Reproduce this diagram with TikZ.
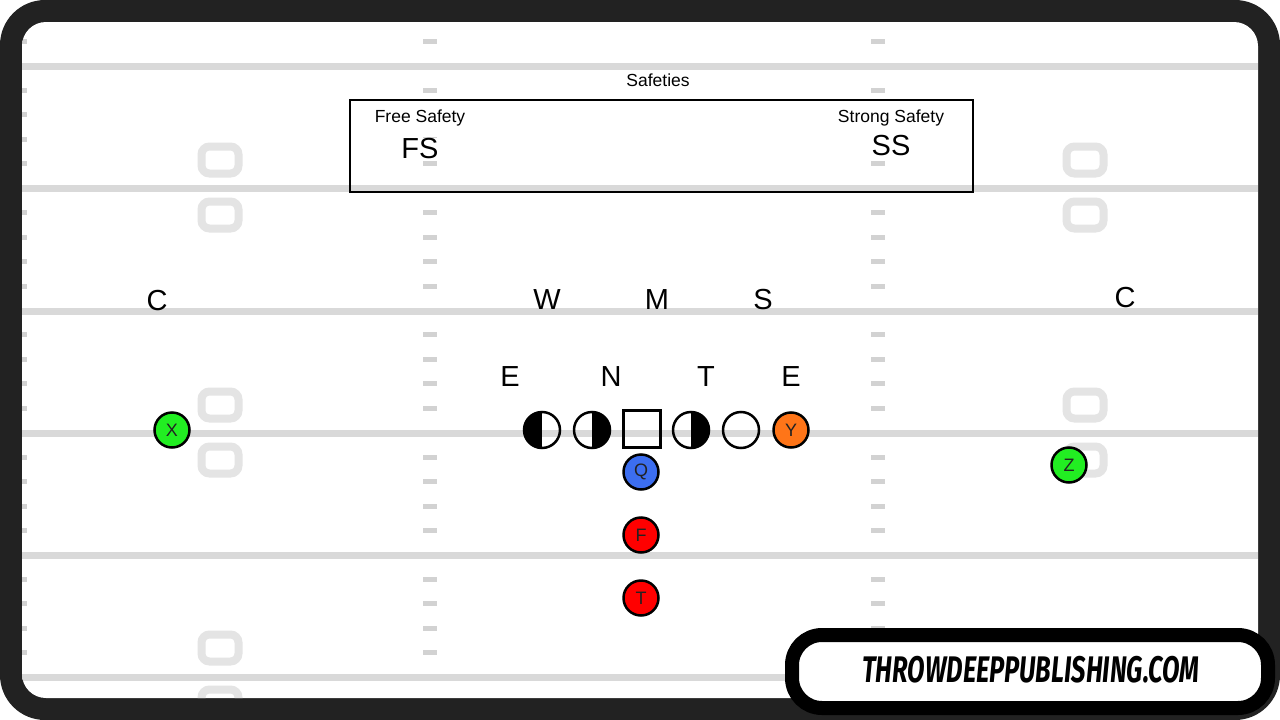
\documentclass[tikz,border=0pt]{standalone}
\usepackage{fontspec}
\usepackage{graphicx}
\setmainfont{Liberation Sans}
\newfontfamily\logofont{Fira Sans}
\definecolor{framecol}{HTML}{222222}
\definecolor{linegray}{HTML}{D9D9D9}
\definecolor{hashgray}{HTML}{D2D2D2}
\definecolor{numgray}{HTML}{E4E4E4}
\definecolor{wrgreen}{HTML}{22EE22}
\definecolor{teorange}{HTML}{FF7518}
\definecolor{qbblue}{HTML}{3C6EF0}
\definecolor{rbred}{HTML}{FF0000}
\tikzset{
  yardline/.style = {linegray, line width=7pt},
  hashmark/.style = {hashgray, line width=5pt},
  numeral/.style  = {numgray, line width=8pt, rounded corners=8pt},
  player/.style   = {circle, draw=black, line width=2.5pt, minimum size=35pt, inner sep=0pt,
                     text=framecol, font=\fontsize{18}{20}\selectfont},
  lineman/.style  = {circle, draw=black, line width=2.5pt, minimum size=36pt, inner sep=0pt},
  lefthalf/.style = {path picture={\fill[black] (path picture bounding box.north west) rectangle (path picture bounding box.south);}},
  righthalf/.style= {path picture={\fill[black] (path picture bounding box.north) rectangle (path picture bounding box.south east);}},
  defense/.style  = {font=\fontsize{29}{32}\selectfont, inner sep=1pt},
  caption/.style  = {font=\fontsize{17.5}{20}\selectfont, inner sep=1pt, fill=white}
}
\newcommand{\logotext}{THROWDEEPPUBLISHING.COM}

\begin{document}
\begin{tikzpicture}[x=1pt,y=-1pt]
  \useasboundingbox (0,0) rectangle (1280,720);
  % frame
  \fill[framecol,rounded corners=45pt] (0,0) rectangle (1280,720);
  \fill[white,rounded corners=24pt] (22,22) rectangle (1258,698);
  \begin{scope}
    \clip[rounded corners=24pt] (22,22) rectangle (1258,698);
    % hash marks
    \foreach \k in {0,...,26} {
      \pgfmathsetmacro{\hy}{41.55+24.45*\k}
      \draw[hashmark] (12,\hy) -- (27,\hy);
      \draw[hashmark] (423,\hy) -- (437,\hy);
      \draw[hashmark] (871,\hy) -- (885,\hy);
    }
    % yard lines
    \foreach \y in {66,188.5,311,433,555,677}
      \draw[yardline] (22,\y) -- (1258,\y);
    % numbers
    \foreach \x in {220,1085}
      \foreach \y in {160,215,405,460,648,703}
        \draw[numeral] ({\x-18.5},{\y-13.5}) rectangle ++(37,27);
  \end{scope}
  % safeties
  \node[draw=black,line width=2.8pt,minimum width=623pt,minimum height=92pt] (box) at (661.5,146) {};
  \node[caption] (saf) at (658,80) {Safeties};
  \node[caption] (fslab) at (420,118) {Free Safety};
  \node[caption] (sslab) at (891,118) {Strong Safety};
  \node[defense,fill=white] (fs) at (420,149) {FS};
  \node[defense,fill=white] (ss) at (891,146) {SS};
  % linebackers and corners
  \node[defense] (cl) at (157,301) {C};
  \node[defense] (w) at (547,300) {W};
  \node[defense] (m) at (657,300) {M};
  \node[defense] (s) at (763,300) {S};
  \node[defense] (cr) at (1125,298) {C};
  % line
  \node[defense] (el) at (510,377) {E};
  \node[defense] (n) at (611,377) {N};
  \node[defense] (t) at (706,377) {T};
  \node[defense] (er) at (791,377) {E};
  % offense
  \node[player,fill=wrgreen] (x) at (172,430) {X};
  \node[lineman,lefthalf] (lt) at (542,430) {};
  \node[lineman,righthalf] (lg) at (592,430) {};
  \node[draw=black,line width=2.5pt,minimum size=37pt,inner sep=0pt] (ctr) at (642,429) {};
  \node[lineman,righthalf] (rg) at (691,430) {};
  \node[lineman] (rt) at (741,430) {};
  \node[player,fill=teorange] (y) at (791,430) {Y};
  \node[player,fill=qbblue] (q) at (641,472) {Q};
  \node[player,fill=rbred] (fb) at (641,535) {F};
  \node[player,fill=rbred] (tb) at (641,598) {T};
  \node[player,fill=wrgreen] (z) at (1069,465) {Z};
  % logo
  \node[draw=black,fill=white,line width=14pt,rounded corners=30pt,
        minimum width=476pt,minimum height=73pt] (logo) at (1030,671.5) {};
  \node (logotxt) at (1031,670) {\scalebox{0.69}[1]{\logofont\bfseries\itshape\fontsize{37}{40}\selectfont\logotext}};
\end{tikzpicture}
\end{document}
